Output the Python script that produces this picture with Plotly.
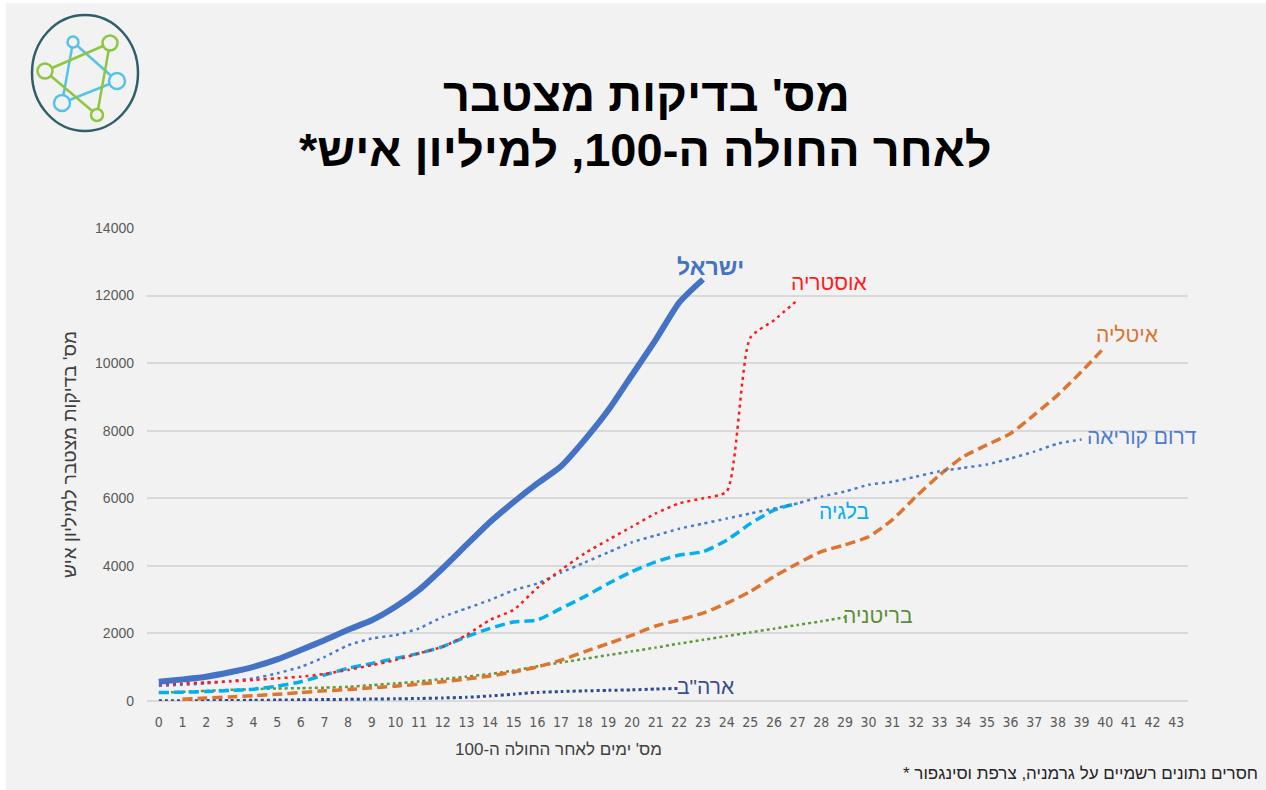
import plotly.graph_objects as go

# ---------------- data ----------------
days = list(range(0, 44))
day_labels = [str(d) for d in days]
y_ticks = [0, 2000, 4000, 6000, 8000, 10000, 12000, 14000]
y_tick_labels = [str(v) for v in y_ticks]

israel_days = list(range(0, 24))
israel = [570, 640, 720, 850, 1010, 1230, 1510, 1800, 2110, 2390, 2790, 3290,
          3930, 4620, 5300, 5890, 6440, 6950, 7730, 8610, 9650, 10690, 11800, 12480]

austria_days = list(range(0, 28))
austria = [500, 520, 550, 580, 620, 670, 720, 800, 920, 1060, 1210, 1410,
           1610, 1950, 2400, 2700, 3350, 3880, 4370, 4770, 5160, 5550, 5850, 6000,
           6200, 10750, 11270, 11870]

korea_days = list(range(0, 40))
korea = [450, 480, 520, 590, 670, 820, 1010, 1300, 1650, 1850, 1950, 2150,
         2490, 2740, 2990, 3280, 3480, 3800, 4100, 4400, 4700, 4900, 5100, 5250,
         5400, 5550, 5700, 5850, 6050, 6200, 6400, 6490, 6640, 6800, 6900, 7000,
         7180, 7380, 7620, 7740]

belgium_days = list(range(0, 28))
belgium = [250, 260, 280, 310, 350, 440, 570, 770, 970, 1110, 1260, 1410,
           1610, 1900, 2150, 2340, 2400, 2740, 3090, 3480, 3830, 4120, 4320, 4420,
           4760, 5250, 5650, 5850]

italy_days = list(range(1, 41))
italy = [50, 90, 120, 160, 200, 250, 300, 340, 390, 440, 500, 570,
         650, 740, 860, 1010, 1210, 1460, 1700, 1950, 2220, 2400, 2600, 2890,
         3240, 3680, 4070, 4420, 4620, 4860, 5360, 6050, 6690, 7230, 7580, 7920,
         8470, 9060, 9750, 10490]

uk_days = list(range(0, 30))
uk = [250, 270, 300, 330, 350, 370, 380, 395, 420, 470, 520, 580,
      650, 720, 800, 900, 1030, 1140, 1250, 1360, 1470, 1580, 1700, 1810,
      1920, 2030, 2140, 2250, 2360, 2480]

usa_days = list(range(0, 23))
usa = [5, 8, 12, 16, 20, 28, 35, 42, 50, 58, 65, 75,
       90, 110, 150, 200, 255, 280, 300, 315, 330, 355, 375]

# ---------------- layout geometry ----------------
OX, OY = 6, 3                      # white page border (left, top)
W, H = 1266 - OX, 790 - OY         # figure size
L, R, T, B = 147 - OX, 78, 228 - OY, 89
PW, PH = W - L - R, H - T - B


def pxx(p):
    """page pixel x -> paper coordinate"""
    return (p - OX - L) / PW


def pxy(p):
    """page pixel y -> paper coordinate"""
    return (H - B - (p - OY)) / PH


FONT = "Liberation Sans, DejaVu Sans, Arial, sans-serif"
NARROW = "Liberation Sans Narrow, DejaVu Sans Condensed, Liberation Sans, sans-serif"

fig = go.Figure()

series = [
    (uk_days, uk, "#5F9A3A", 2.5, "3px,3px"),
    (usa_days, usa, "#2F4A94", 3, "3px,3px"),
    (italy_days, italy, "#DD742F", 3.5, "10px,5px"),
    (belgium_days, belgium, "#00B0F0", 3.5, "10px,5px"),
    (korea_days, korea, "#4A78CC", 2.5, "3px,4px"),
    (austria_days, austria, "#FF1A1A", 2.5, "3px,4px"),
    (israel_days, israel, "#4472C4", 6, "solid"),
]
for xs, ys, col, w, dash in series:
    fig.add_trace(go.Scatter(
        x=xs, y=ys, mode="lines",
        line=dict(color=col, width=w, dash=dash, shape="spline", smoothing=0.6),
        showlegend=False, hoverinfo="skip",
    ))

# series labels (positions in data coordinates)
labels = [
    ("ישראל", 23.3, 12850, "#4472C4", 23, True),
    ("אוסטריה", 28.33, 12400, "#FF1A1A", 21, False),
    ("איטליה", 40.92, 10860, "#D9732F", 21, False),
    ("דרום קוריאה", 41.56, 7840, "#4D7BD0", 21, False),
    ("בלגיה", 28.94, 5620, "#00B0F0", 21, False),
    ("בריטניה", 30.38, 2545, "#5A8E38", 21, False),
    ('ארה"ב', 23.12, 444, "#3B4E8C", 21, False),
]
for txt, lx, ly, col, sz, bold in labels:
    fig.add_annotation(
        x=lx, y=ly, xref="x", yref="y", text=(f"<b>{txt}</b>" if bold else txt),
        showarrow=False, font=dict(family=FONT, size=sz, color=col),
        xanchor="center", yanchor="middle",
    )

# title
fig.add_annotation(
    x=pxx(646), y=pxy(95), xref="paper", yref="paper",
    text="<b>מס' בדיקות מצטבר</b>", showarrow=False,
    font=dict(family=FONT, size=47, color="#000000"),
    xanchor="center", yanchor="middle",
)
fig.add_annotation(
    x=pxx(645), y=pxy(149), xref="paper", yref="paper",
    text="<b>לאחר החולה ה-100, למיליון איש*\u200F</b>", showarrow=False,
    font=dict(family=FONT, size=47, color="#000000"),
    xanchor="center", yanchor="middle",
)

# axis titles
fig.add_annotation(
    x=pxx(558), y=pxy(749), xref="paper", yref="paper",
    text="מס' ימים לאחר החולה ה-100", showarrow=False,
    font=dict(family=FONT, size=17, color="#404040"),
    xanchor="center", yanchor="middle",
)
fig.add_annotation(
    x=pxx(69), y=pxy(455), xref="paper", yref="paper",
    text="מס' בדיקות מצטבר למיליון איש", showarrow=False, textangle=-90,
    font=dict(family=FONT, size=19, color="#404040"),
    xanchor="center", yanchor="middle",
)
# footnote
fig.add_annotation(
    x=pxx(1260), y=pxy(773), xref="paper", yref="paper",
    text="* חסרים נתונים רשמיים על גרמניה, צרפת וסינגפור", showarrow=False,
    font=dict(family=FONT, size=17, color="#262626"),
    xanchor="right", yanchor="middle",
)

# logo (decorative)
shapes = []
cx, cy, rx, ry = 85, 73, 53, 58
shapes.append(dict(type="circle", xref="paper", yref="paper",
                   x0=pxx(cx - rx), x1=pxx(cx + rx), y0=pxy(cy + ry), y1=pxy(cy - ry),
                   line=dict(color="#2F5F6B", width=2.5), fillcolor="rgba(0,0,0,0)"))
blue_nodes = [(73, 42, 5.5), (117, 81, 8), (62, 103, 8)]
green_nodes = [(110, 43, 7.5), (45, 71, 7.5), (97, 115, 6)]
for nodes, col in ((blue_nodes, "#55C3E8"), (green_nodes, "#8DC641")):
    for i in range(3):
        a, b = nodes[i], nodes[(i + 1) % 3]
        shapes.append(dict(type="line", xref="paper", yref="paper",
                           x0=pxx(a[0]), y0=pxy(a[1]), x1=pxx(b[0]), y1=pxy(b[1]),
                           line=dict(color=col, width=2.5)))
for nodes, col in ((blue_nodes, "#55C3E8"), (green_nodes, "#8DC641")):
    for (nx, ny, r) in nodes:
        shapes.append(dict(type="circle", xref="paper", yref="paper",
                           x0=pxx(nx - r), x1=pxx(nx + r), y0=pxy(ny + r), y1=pxy(ny - r),
                           line=dict(color=col, width=2.5), fillcolor="#F2F2F2"))

fig.update_layout(
    width=W, height=H, autosize=False,
    margin=dict(l=L, r=R, t=T, b=B, pad=0),
    paper_bgcolor="#F2F2F2", plot_bgcolor="#F2F2F2",
    showlegend=False,
    shapes=shapes,
    xaxis=dict(
        range=[-0.5, 43.5], tickmode="array", tickvals=days, ticktext=day_labels,
        showgrid=False, zeroline=False, showline=False, ticks="",
        tickfont=dict(family=NARROW, size=14, color="#595959"),
        ticklabelstandoff=11, fixedrange=True,
    ),
    yaxis=dict(
        range=[0, 14000], tickmode="array", tickvals=y_ticks, ticktext=y_tick_labels,
        showgrid=True, gridcolor="#D9D9D9", gridwidth=1.5,
        zeroline=True, zerolinecolor="#D9D9D9", zerolinewidth=1.5,
        showline=False, ticks="",
        tickfont=dict(family=FONT, size=14, color="#595959"),
        ticklabelstandoff=12, fixedrange=True,
    ),
)

fig.write_html(
    "out.html",
    config={"displayModeBar": False},
    post_script=f"document.body.style.margin='{OY}px 0 0 {OX}px';"
                "document.body.style.overflow='hidden';",
)
